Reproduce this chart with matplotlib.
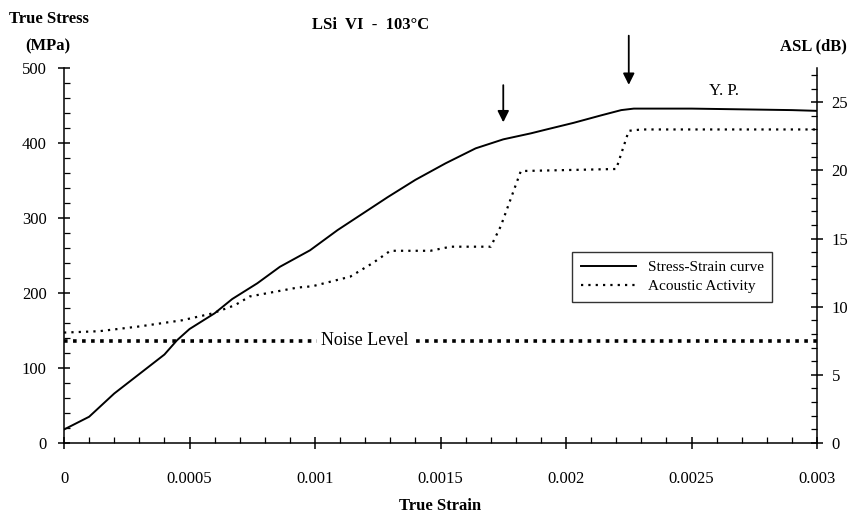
import numpy as np
import matplotlib.pyplot as plt
from matplotlib.ticker import MultipleLocator

# stress-strain curve
strain_s = [0, 0.0001, 0.0002, 0.0003, 0.0004, 0.00045, 0.0005, 0.0006, 0.00067,
            0.00077, 0.00086, 0.00098, 0.00109, 0.00119, 0.00129, 0.0014, 0.00152,
            0.00164, 0.00175, 0.00186, 0.00192, 0.00203, 0.00214, 0.00222, 0.00227,
            0.0025, 0.0027, 0.0029, 0.003]
stress = [18, 35, 66, 92, 118, 137, 152, 173, 192, 213, 235, 257, 284, 306, 328,
          351, 373, 393, 405, 413, 418, 427, 437, 444, 446, 446, 445, 444, 443]

# acoustic activity (ASL, dB)
strain_a = [0, 0.00014, 0.0003, 0.00047, 0.00059, 0.00068, 0.00074, 0.00093, 0.00099,
            0.00114, 0.00123, 0.0013, 0.00146, 0.00154, 0.0017, 0.00174, 0.00182,
            0.0022, 0.00225, 0.0023, 0.003]
asl = [8.1, 8.2, 8.55, 9.0, 9.5, 10.1, 10.75, 11.4, 11.5, 12.2, 13.2, 14.1, 14.1,
       14.4, 14.4, 15.9, 19.95, 20.1, 22.9, 23.0, 23.0]

noise_level = 7.5
arrow_strains = [0.00175, 0.00225]

plt.rcParams['font.family'] = ['Liberation Serif', 'DejaVu Serif']
plt.rcParams['font.size'] = 12

fig = plt.figure(figsize=(8.63, 5.24), dpi=100)
ax = fig.add_axes([0.0742, 0.1546, 0.8725, 0.7154])
ax2 = ax.twinx()

ax.plot(strain_s, stress, color='black', lw=1.4, label='Stress-Strain curve')
ax2.plot(strain_a, asl, color='black', lw=1.6, linestyle=(0, (1, 2.3)),
         label='Acoustic Activity')
ax2.plot([0, 0.003], [noise_level, noise_level], color='black', lw=2.6,
         linestyle=(0, (1, 1.5)))
ax2.text(0.0012, noise_level, 'Noise Level', ha='center', va='center', fontsize=13,
         bbox=dict(facecolor='white', edgecolor='none', pad=3))

ax.set_xlim(0, 0.003)
ax.set_ylim(0, 500)
ax2.set_ylim(0, 27.5)

ax.xaxis.set_major_locator(MultipleLocator(0.0005))
ax.xaxis.set_minor_locator(MultipleLocator(0.0001))
ax.yaxis.set_major_locator(MultipleLocator(100))
ax.yaxis.set_minor_locator(MultipleLocator(20))
ax2.yaxis.set_major_locator(MultipleLocator(5))
ax2.yaxis.set_minor_locator(MultipleLocator(1))
ax.set_xticks([0, 0.0005, 0.001, 0.0015, 0.002, 0.0025, 0.003])
ax.set_xticklabels(['0', '0.0005', '0.001', '0.0015', '0.002', '0.0025', '0.003'])

for a in (ax, ax2):
    a.spines['top'].set_visible(False)
    for s in a.spines.values():
        s.set_linewidth(1.1)
ax.spines['right'].set_visible(False)
ax2.spines['left'].set_visible(False)
ax2.spines['bottom'].set_visible(False)

ax.tick_params(axis='x', which='major', direction='inout', length=9, width=1.1, pad=16)
ax.tick_params(axis='x', which='minor', direction='in', length=4, width=0.9)
ax.tick_params(axis='y', which='major', direction='inout', length=9, width=1.1, pad=8)
ax.tick_params(axis='y', which='minor', direction='in', length=4, width=0.9)
ax2.tick_params(axis='y', which='major', direction='inout', length=9, width=1.1, pad=6)
ax2.tick_params(axis='y', which='minor', direction='in', length=4, width=0.9)

# arrows marking events
ax.annotate('', xy=(arrow_strains[0], 424), xytext=(arrow_strains[0], 481),
            arrowprops=dict(arrowstyle='-|>', color='black', lw=1.3, mutation_scale=17),
            annotation_clip=False)
ax.annotate('', xy=(arrow_strains[1], 474), xytext=(arrow_strains[1], 547),
            arrowprops=dict(arrowstyle='-|>', color='black', lw=1.3, mutation_scale=17),
            annotation_clip=False)
ax.text(0.00263, 469, 'Y. P.', ha='center', va='center', fontsize=12)

fig.text(0.057, 0.963, 'True Stress', ha='center', va='center', fontweight='bold', fontsize=12)
fig.text(0.055, 0.912, '(MPa)', ha='center', va='center', fontweight='bold', fontsize=12)
fig.text(0.943, 0.912, 'ASL (dB)', ha='center', va='center', fontweight='bold', fontsize=12)
fig.text(0.429, 0.952, 'LSi  VI  -  103°C', ha='center', va='center', fontweight='bold', fontsize=12)
fig.text(0.51, 0.035, 'True Strain', ha='center', va='center', fontweight='bold', fontsize=12)

h1, l1 = ax.get_legend_handles_labels()
h2, l2 = ax2.get_legend_handles_labels()
leg = ax2.legend(h1 + h2, l1 + l2, loc='upper left', bbox_to_anchor=(0.675, 0.509),
                 fontsize=11, frameon=True, fancybox=False, handlelength=3.6,
                 borderpad=0.55, labelspacing=0.35, borderaxespad=0)
leg.get_frame().set_edgecolor('black')
leg.get_frame().set_linewidth(1.0)

fig.savefig('out.png', dpi=100)
